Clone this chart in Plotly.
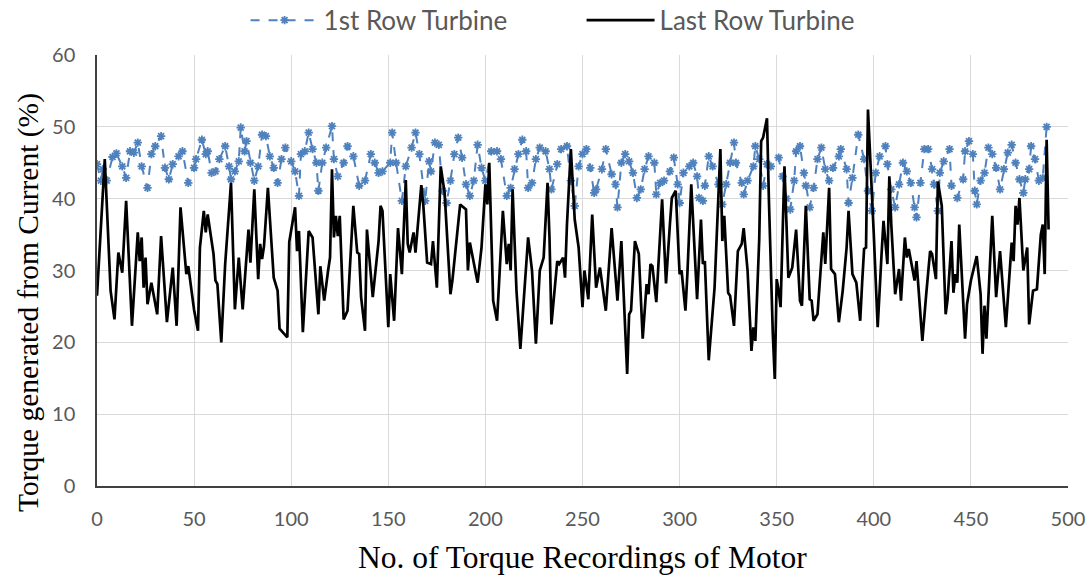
import plotly.graph_objects as go

# ---- data (recording index, torque %) ----
first_x = [0, 2, 3, 5, 8, 10, 13, 15, 17, 19, 21, 23, 26, 28, 30, 33, 35, 37, 39, 42, 44, 47, 50, 51, 54, 56, 57, 59, 61, 63, 66, 68, 69, 71, 73, 74, 76, 77, 79, 81, 83, 85, 87, 89, 91, 93, 95, 97,
           100, 102, 104, 105, 107, 109, 111, 113, 114, 116, 118, 121, 122, 124, 127, 129, 132, 135, 138, 141, 143, 145, 147,
           151, 152, 154, 157, 159, 162, 164, 166, 169, 171, 172, 174, 176, 178, 180, 182, 184, 186, 188, 190, 192, 194, 196, 198,
           200, 203, 206, 208, 211, 213, 215, 217, 219, 221, 222, 224, 226, 228, 231, 233, 234, 237, 239, 242, 244, 246, 248,
           250, 252, 254, 256, 257, 260, 262, 265, 267, 268, 270, 272, 274, 276, 278, 280, 282, 284, 287, 288, 290, 292, 295, 297, 299,
           300, 302, 305, 307, 309, 310, 312, 313, 315, 317, 320, 322, 324, 326, 328, 329, 332, 333, 335, 338, 339, 341, 343, 345, 347,
           351, 353, 355, 357, 359, 360, 362, 364, 365, 367, 369, 371, 373, 375, 377, 379, 382, 383, 386, 387, 389, 392, 395, 397, 399,
           401, 403, 406, 407, 409, 411, 413, 415, 417, 419, 421, 422, 424, 426, 428, 430, 431, 433, 434, 436, 439, 440, 443, 446, 447, 449,
           451, 452, 453, 455, 457, 459, 461, 463, 465, 467, 469, 471, 473, 475, 477, 478, 480, 481, 483, 485, 487, 489]
first_y = [44.8, 42.5, 44.1, 42.5, 45.8, 46.3, 44.5, 42.9, 46.6, 46.4, 47.8, 44.5, 41.5, 46.2, 47.3, 48.7, 44.3, 42.7, 44.8, 45.9, 46.6, 42.2, 44.3, 45.5, 48.2, 46.2, 46.6, 43.6, 43.8, 45.5, 47.3, 44.5, 42.7, 43.8, 45.2, 49.9, 46.6, 48.0, 45.0, 42.5, 44.5, 48.9, 48.7, 45.9, 44.3, 42.2, 45.5, 47.1,
           45.2, 43.8, 40.4, 46.2, 46.6, 49.2, 46.9, 45.0, 41.1, 45.0, 47.1, 50.1, 45.5, 43.1, 45.0, 47.3, 45.9, 41.8, 42.5, 46.2, 45.0, 43.6, 43.8,
           45.0, 49.2, 45.0, 39.7, 44.5, 47.1, 49.2, 46.2, 39.7, 45.2, 43.8, 47.8, 47.5, 41.1, 39.4, 42.5, 46.2, 48.5, 45.7, 42.0, 40.4, 42.5, 47.5, 44.3,
           42.5, 46.6, 46.6, 45.5, 40.4, 41.5, 44.1, 46.2, 48.2, 46.6, 41.5, 42.2, 45.5, 47.1, 46.6, 44.1, 41.3, 44.8, 46.9, 47.3, 42.5, 39.0, 44.5,
           46.2, 46.9, 44.3, 40.8, 41.3, 44.1, 46.9, 43.4, 42.0, 38.8, 45.0, 46.2, 45.2, 43.6, 40.1, 41.3, 44.1, 45.9, 45.0, 40.6, 42.2, 42.5, 43.8, 45.7, 42.0,
           39.4, 43.6, 44.5, 45.0, 43.1, 40.1, 39.7, 41.8, 45.9, 44.5, 42.0, 39.2, 42.0, 45.0, 47.8, 45.0, 42.2, 40.6, 42.5, 44.5, 47.3, 45.5, 41.8, 44.8, 44.5,
           45.7, 43.1, 40.0, 38.5, 42.5, 46.6, 47.3, 43.6, 41.8, 38.8, 41.5, 45.5, 47.1, 44.1, 42.5, 44.3, 45.9, 46.9, 44.1, 39.4, 42.9, 48.9, 45.5, 41.1, 38.3,
           43.6, 45.9, 47.3, 44.8, 41.3, 38.8, 42.0, 45.0, 43.8, 42.2, 38.8, 37.4, 42.2, 46.9, 46.9, 44.1, 42.0, 38.3, 43.6, 45.2, 46.9, 41.8, 40.1, 42.7, 46.6, 48.0,
           46.2, 41.1, 39.2, 42.5, 43.6, 47.1, 46.2, 44.3, 41.3, 44.1, 46.4, 47.5, 45.0, 42.7, 40.8, 42.7, 44.1, 47.3, 45.5, 42.5, 42.9, 50.0]

last_x = [0, 4, 7, 9, 11, 13, 15, 18, 21, 22, 23, 24, 25, 26, 28, 31, 33, 36, 39, 41, 43, 46, 47, 50, 52, 53, 55, 56, 57, 60, 61, 62, 64, 66, 69, 71, 73, 75, 78, 79, 81, 83, 84, 85, 86, 88, 91, 93, 94, 98, 99,
          102, 103, 104, 106, 109, 111, 112, 114, 115, 117, 119, 120, 121, 122, 123, 124, 125, 127, 129, 132, 134, 135, 136, 138, 139, 142, 145, 146, 147,
          150, 151, 153, 155, 157, 159, 160, 161, 163, 164, 167, 168, 170, 172, 173, 175, 177, 179, 182, 183, 187, 190, 191, 192, 195, 196, 198,
          200, 201, 202, 204, 206, 209, 211, 212, 213, 214, 216, 218, 220, 222, 224, 226, 228, 230, 232, 233, 234, 237, 238, 240, 241, 242, 244, 246, 248,
          250, 251, 253, 255, 257, 259, 262, 265, 268, 270, 272, 273, 274, 275, 277, 279, 281, 283, 284, 285, 286, 288, 291, 292, 293, 295, 296, 298,
          300, 301, 303, 304, 306, 309, 311, 312, 313, 315, 318, 321, 322, 323, 325, 326, 328, 330, 332, 333, 335, 337, 338, 339, 341, 342, 343, 345, 346, 348, 349,
          350, 351, 352, 354, 356, 358, 360, 362, 363, 365, 367, 368, 369, 371, 374, 375, 377, 378, 380, 382, 384, 386, 387, 389, 391, 393, 394, 395, 396, 397,
          400, 402, 404, 405, 407, 408, 409, 411, 413, 414, 416, 417, 418, 421, 422, 425, 427, 429, 430, 432, 433, 435, 437, 438, 440, 441, 442, 443, 444, 447, 448,
          450, 453, 455, 456, 457, 458, 461, 463, 465, 468, 471, 472, 473, 474, 475, 477, 479, 480, 482, 484, 486, 487, 488, 489, 490]
last_y = [26.5, 45.5, 27.2, 23.2, 32.5, 29.7, 39.7, 22.3, 35.3, 31.3, 34.6, 27.6, 31.8, 25.3, 28.3, 23.9, 34.8, 22.8, 30.4, 22.3, 38.8, 29.5, 30.6, 24.5, 21.6, 33.2, 38.3, 35.3, 37.8, 32.3, 28.6, 28.1, 20.0, 30.9, 42.2, 24.6, 31.8, 24.6, 35.7, 31.1, 41.3, 28.8, 33.7, 31.6, 33.4, 41.5, 29.0, 27.2, 21.9, 20.7, 34.0,
          38.8, 32.7, 35.5, 21.4, 35.5, 34.6, 30.9, 23.9, 30.6, 25.8, 30.0, 31.8, 44.1, 34.6, 37.6, 34.8, 37.6, 23.2, 24.4, 39.0, 32.5, 32.3, 26.3, 21.6, 35.7, 26.3, 34.1, 39.0, 38.3,
          22.1, 29.5, 23.0, 35.9, 29.5, 42.6, 33.7, 32.5, 35.3, 32.5, 41.9, 39.2, 31.1, 30.9, 34.1, 27.6, 44.5, 40.8, 26.7, 28.6, 39.2, 38.5, 30.0, 33.9, 29.5, 28.3, 33.2,
          42.0, 39.2, 45.0, 25.8, 23.0, 38.3, 30.9, 33.7, 30.0, 41.3, 27.2, 19.1, 26.7, 34.6, 30.0, 19.8, 30.0, 31.8, 42.2, 34.6, 22.5, 31.3, 30.9, 31.8, 29.0, 36.4, 46.9, 37.1, 33.2,
          24.9, 30.0, 26.0, 37.8, 27.6, 30.4, 24.4, 35.9, 25.8, 34.1, 21.2, 15.6, 23.9, 24.4, 34.1, 32.3, 20.5, 28.1, 26.7, 30.9, 30.6, 25.6, 39.9, 33.0, 28.2, 36.4, 40.1, 41.1,
          29.5, 30.0, 24.4, 29.5, 42.0, 26.0, 37.1, 30.9, 31.3, 17.5, 27.6, 46.9, 34.1, 37.6, 26.9, 26.5, 22.3, 32.7, 33.7, 35.9, 30.0, 18.8, 22.1, 20.2, 34.3, 48.0, 48.5, 51.2, 39.7, 21.2, 14.9,
          28.8, 27.2, 24.9, 44.5, 29.0, 30.4, 35.7, 25.8, 25.1, 39.0, 26.0, 25.8, 23.0, 23.9, 35.3, 30.9, 41.5, 30.2, 29.5, 22.8, 27.2, 33.2, 38.3, 29.5, 28.3, 23.0, 28.3, 33.0, 33.2, 52.4,
          35.0, 22.1, 32.3, 36.9, 30.9, 43.1, 36.4, 26.7, 30.2, 25.8, 34.6, 31.8, 33.0, 28.6, 31.3, 20.2, 26.7, 32.7, 32.3, 28.8, 42.4, 39.0, 23.9, 26.0, 34.1, 26.9, 29.5, 28.3, 36.4, 20.5, 25.3,
          28.6, 32.0, 26.7, 18.4, 25.1, 20.5, 37.6, 26.3, 32.7, 22.1, 33.9, 31.3, 39.0, 36.4, 40.1, 30.0, 33.2, 22.5, 27.2, 27.4, 35.0, 36.4, 29.5, 48.2, 35.7]

x_ticks = list(range(0, 501, 50))
y_ticks = list(range(0, 61, 10))

BLUE = "#4F81BD"
TXT = "#595959"
GRID = "#D9D9D9"
SANS = "Lato, Open Sans, sans-serif"
SERIF = "Liberation Serif, Times New Roman, serif"

fig = go.Figure()
fig.add_trace(go.Scatter(
    x=first_x, y=first_y, name="1st Row Turbine", mode="lines+markers",
    line=dict(color=BLUE, width=2, dash="dash"),
    marker=dict(symbol="asterisk-open", size=7, color=BLUE, line=dict(color=BLUE, width=1.8)),
))
fig.add_trace(go.Scatter(
    x=last_x, y=last_y, name="Last Row Turbine", mode="lines",
    line=dict(color="#000000", width=2.7),
))

fig.update_layout(
    width=1089, height=578,
    margin=dict(l=97, r=21, t=55, b=92, autoexpand=False),
    paper_bgcolor="white", plot_bgcolor="white",
    showlegend=True,
    legend=dict(orientation="h", xref="paper", x=0.153, xanchor="left",
                yref="container", y=0.965, yanchor="middle",
                font=dict(family=SANS, size=26, color=TXT),
                entrywidth=253, entrywidthmode="pixels", itemwidth=68,
                bgcolor="rgba(0,0,0,0)"),
    font=dict(family=SANS, color=TXT),
    annotations=[
        dict(text="Torque generated from Current (%)", xref="paper", yref="paper",
             x=(28 - 97) / 971, y=(486 - 303) / 431, xanchor="center", yanchor="middle",
             textangle=-90, showarrow=False,
             font=dict(family=SERIF, size=29.5, color="#000000")),
        dict(text="No. of Torque Recordings of Motor", xref="paper", yref="paper",
             x=(582 - 97) / 971, y=(486 - 557) / 431, xanchor="center", yanchor="middle",
             showarrow=False,
             font=dict(family=SERIF, size=31.5, color="#000000")),
    ],
)
fig.update_xaxes(
    range=[0, 500], tickmode="array", tickvals=x_ticks, ticktext=[str(v) for v in x_ticks],
    showgrid=True, gridcolor=GRID, gridwidth=1, zeroline=False,
    showline=True, linecolor="#404040", linewidth=1.5, ticks="",
    tickfont=dict(family=SANS, size=20, color=TXT),
    ticklabelstandoff=14,
)
fig.update_yaxes(
    range=[0, 60], tickmode="array", tickvals=y_ticks, ticktext=[str(v) for v in y_ticks],
    showgrid=True, gridcolor=GRID, gridwidth=1, zeroline=False,
    showline=True, linecolor="#404040", linewidth=1.5, ticks="",
    tickfont=dict(family=SANS, size=20, color=TXT),
    ticklabelstandoff=16,
)

fig.write_html("out.html")
